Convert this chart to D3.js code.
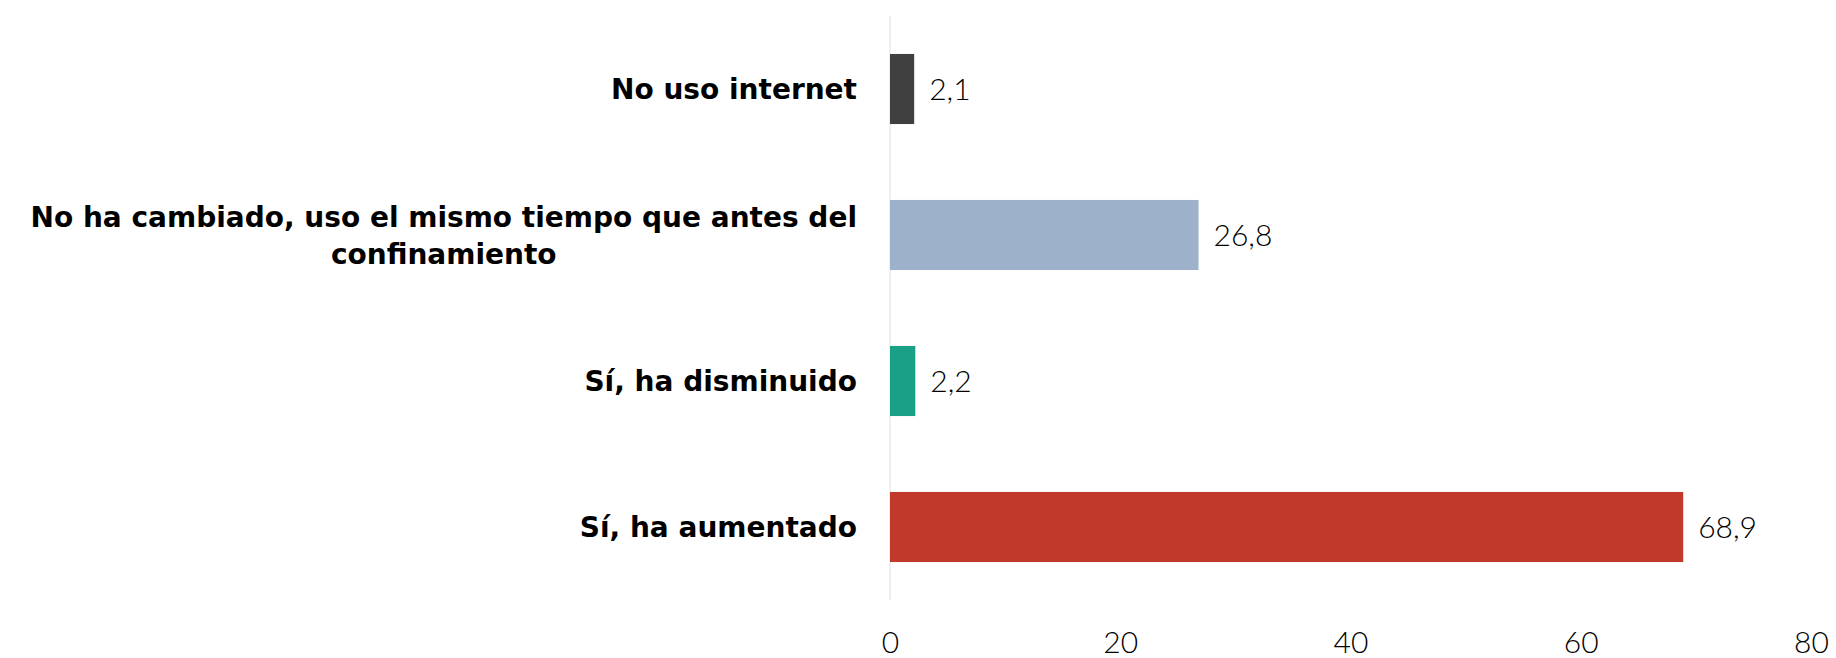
<!DOCTYPE html>
<html><head><meta charset="utf-8">
<script src="https://cdn.jsdelivr.net/npm/d3@7"></script>
<style>body{margin:0;background:#fff}</style>
</head><body>
<svg id="c" width="1836" height="658"></svg>
<script>
const categories = [["No uso internet"], ["No ha cambiado, uso el mismo tiempo que antes del", "confinamiento"], ["Sí, ha disminuido"], ["Sí, ha aumentado"]];
const values = [2.1, 26.8, 2.2, 68.9];
const colors = ["#404040", "#9db2ca", "#1aa086", "#c0392b"];
const ticks = [0, 20, 40, 60, 80];

const svg = d3.select("#c");
const x = d3.scaleLinear().domain([0, 80]).range([890, 1811]);
const y = d3.scaleBand().domain(d3.range(categories.length)).range([16, 600]).paddingInner(0.52).paddingOuter(0.26);
const FONT = "Lato, 'Open Sans', sans-serif";
const BFONT = "'DejaVu Sans', sans-serif";

svg.append("line").attr("x1", 890).attr("x2", 890).attr("y1", 16).attr("y2", 600)
  .attr("stroke", "#eef0f0").attr("stroke-width", 2);

svg.selectAll("rect.bar").data(values).join("rect").attr("class", "bar")
  .attr("x", x(0)).attr("y", (d, i) => y(i)).attr("width", d => x(d) - x(0)).attr("height", y.bandwidth())
  .attr("fill", (d, i) => colors[i]);

svg.selectAll("text.val").data(values).join("text").attr("class", "val")
  .attr("x", d => x(d) + 15).attr("y", (d, i) => y(i) + y.bandwidth() / 2).attr("dy", "0.36em")
  .attr("font-family", FONT).attr("font-size", 30).attr("font-weight", 300).attr("fill", "#000")
  .text(d => d.toString().replace(".", ","));

const axis = d3.axisBottom(x).tickValues(ticks).tickSize(0).tickPadding(0);
const ga = svg.append("g").attr("transform", "translate(0,642)").call(axis);
ga.select(".domain").remove();
ga.selectAll("text").attr("font-family", FONT).attr("font-size", 30).attr("font-weight", 300).attr("fill", "#000").attr("dy", "0.36em");

categories.forEach((lines, i) => {
  const cy = y(i) + y.bandwidth() / 2;
  const g = svg.append("g");
  const lh = 37;
  const t = g.append("text").attr("font-family", BFONT).attr("font-size", 28).attr("font-weight", 700).attr("fill", "#000");
  lines.forEach((l, k) => {
    t.append("tspan").attr("x", 0).attr("y", cy + (k - (lines.length - 1) / 2) * lh).attr("dy", "0.36em").text(l);
  });
  const w = lines.length > 1 ? t.select("tspan").node().getComputedTextLength() : t.node().getComputedTextLength();
  if (lines.length > 1) {
    t.attr("text-anchor", "middle").selectAll("tspan").attr("x", 857 - w / 2);
  } else {
    t.attr("text-anchor", "end").selectAll("tspan").attr("x", 857);
  }
});
</script>
</body></html>
